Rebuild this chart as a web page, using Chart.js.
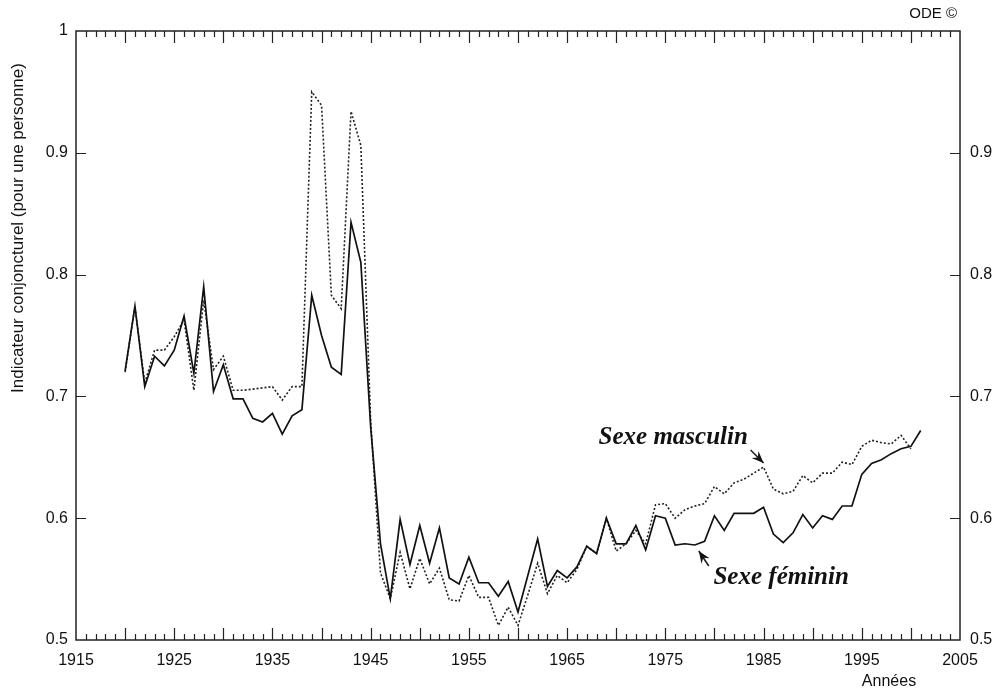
<!DOCTYPE html>
<html>
<head>
<meta charset="utf-8">
<script src="https://cdn.jsdelivr.net/npm/chart.js@4.4.0/dist/chart.umd.min.js"></script>
<style>
  body { margin: 0; background: #fff; }
  #chartContainer { display: block; }
</style>
</head>
<body>
<canvas id="chartContainer" width="994" height="692"></canvas>
<script>
// annees 1920 - 2001
var years = [];
for (var a = 1920; a <= 2001; a++) years.push(a);

// Sexe feminin (trait plein), 1920-2001
var feminin = [
  0.721, 0.774, 0.708, 0.733, 0.725, 0.738, 0.766, 0.719, 0.790, 0.704,
  0.726, 0.698, 0.698, 0.682, 0.679, 0.686, 0.669, 0.684, 0.689, 0.783,
  0.750, 0.724, 0.718, 0.843, 0.810, 0.675, 0.579, 0.534, 0.599, 0.562,
  0.594, 0.563, 0.592, 0.551, 0.546, 0.568, 0.547, 0.547, 0.536, 0.548,
  0.523, 0.553, 0.583, 0.544, 0.557, 0.551, 0.560, 0.577, 0.571, 0.600,
  0.579, 0.579, 0.594, 0.574, 0.602, 0.600, 0.578, 0.579, 0.578, 0.581,
  0.602, 0.590, 0.604, 0.604, 0.604, 0.609, 0.587, 0.580, 0.588, 0.603,
  0.592, 0.602, 0.599, 0.610, 0.610, 0.636, 0.645, 0.648, 0.653, 0.657,
  0.659, 0.672
];

// Sexe masculin (pointille), 1920-2000
var masculin = [
  0.720, 0.774, 0.711, 0.738, 0.738, 0.749, 0.763, 0.705, 0.779, 0.722,
  0.733, 0.705, 0.705, 0.706, 0.707, 0.708, 0.697, 0.708, 0.708, 0.950,
  0.939, 0.783, 0.772, 0.934, 0.906, 0.680, 0.555, 0.534, 0.572, 0.542,
  0.567, 0.546, 0.559, 0.533, 0.532, 0.553, 0.535, 0.535, 0.512, 0.527,
  0.512, 0.537, 0.563, 0.538, 0.553, 0.547, 0.558, 0.577, 0.571, 0.600,
  0.573, 0.579, 0.590, 0.579, 0.611, 0.612, 0.600, 0.607, 0.610, 0.612,
  0.626, 0.620, 0.629, 0.632, 0.637, 0.642, 0.624, 0.620, 0.622, 0.635,
  0.629, 0.637, 0.637, 0.646, 0.644, 0.659, 0.664, 0.662, 0.661, 0.668,
  0.657
];

var xMin = 1915, xMax = 2005;
var yMin = 0.5, yMax = 1;

function pts(vals) {
  return vals.map(function (v, i) { return { x: years[i], y: v }; });
}

var tickFont = { family: 'Liberation Sans', size: 16 };

// cadre, graduations internes et textes
var decor = {
  id: 'decor',
  afterDraw: function (chart) {
    var c = chart.ctx, ca = chart.chartArea;
    var sx = chart.scales.x, sy = chart.scales.y;
    c.save();
    c.strokeStyle = '#222';
    c.lineWidth = 1.5;
    c.strokeRect(ca.left, ca.top, ca.right - ca.left, ca.bottom - ca.top);

    c.lineWidth = 1.2;
    c.beginPath();
    for (var yr = xMin + 1; yr < xMax; yr++) {
      var px = Math.round(sx.getPixelForValue(yr)) + 0.5;
      var len = (yr % 5 === 0) ? 12 : 6;
      c.moveTo(px, ca.bottom); c.lineTo(px, ca.bottom - len);
      c.moveTo(px, ca.top); c.lineTo(px, ca.top + len);
    }
    for (var k = 1; k < 5; k++) {
      var py = Math.round(sy.getPixelForValue(yMin + k / 10)) + 0.5;
      c.moveTo(ca.left, py); c.lineTo(ca.left + 10, py);
      c.moveTo(ca.right, py); c.lineTo(ca.right - 10, py);
    }
    c.stroke();

    c.fillStyle = '#111';
    c.font = '15px "Liberation Sans"';
    c.textAlign = 'right'; c.textBaseline = 'middle';
    c.fillText('ODE \u00a9', 957, 14);
    c.textAlign = 'center';
    c.font = '16px "Liberation Sans"';
    c.fillText('Ann\u00e9es', 889, 682);

    c.save();
    c.translate(18, 228);
    c.rotate(-Math.PI / 2);
    c.font = '17px "Liberation Sans"';
    c.fillText('Indicateur conjoncturel (pour une personne)', 0, 0);
    c.restore();

    // etiquettes des courbes
    c.font = 'bold italic 25px "Liberation Serif"';
    c.textAlign = 'left';
    c.fillText('Sexe masculin', sx.getPixelForValue(1968.2), sy.getPixelForValue(0.6665));
    c.fillText('Sexe f\u00e9minin', sx.getPixelForValue(1979.9), sy.getPixelForValue(0.551));

    function arrow(x0, y0, x1, y1) {
      var ang = Math.atan2(y1 - y0, x1 - x0);
      c.lineWidth = 1.6;
      c.beginPath(); c.moveTo(x0, y0); c.lineTo(x1, y1); c.stroke();
      c.beginPath();
      c.moveTo(x1, y1);
      c.lineTo(x1 - 13 * Math.cos(ang - 0.38), y1 - 13 * Math.sin(ang - 0.38));
      c.lineTo(x1 - 8 * Math.cos(ang), y1 - 8 * Math.sin(ang));
      c.lineTo(x1 - 13 * Math.cos(ang + 0.38), y1 - 13 * Math.sin(ang + 0.38));
      c.closePath(); c.fill();
    }
    var mx = sx.getPixelForValue(1985), my = sy.getPixelForValue(masculin[1985 - 1920]);
    arrow(mx - 13, my - 17, mx, my - 4);
    var fx = sx.getPixelForValue(1978), fy = sy.getPixelForValue(feminin[1978 - 1920]);
    arrow(fx + 14, fy + 21, fx + 4, fy + 6);
    c.restore();
  }
};

var ctx = document.getElementById('chartContainer').getContext('2d');
var chart = new Chart(ctx, {
  type: 'line',
  data: {
    datasets: [{
      label: 'Sexe f\u00e9minin',
      data: pts(feminin),
      borderColor: '#111',
      borderWidth: 1.7,
      pointRadius: 0,
      tension: 0,
      fill: false
    }, {
      label: 'Sexe masculin',
      data: pts(masculin),
      borderColor: '#222',
      borderWidth: 1.6,
      borderDash: [2, 2],
      pointRadius: 0,
      tension: 0,
      fill: false
    }]
  },
  options: {
    responsive: false,
    animation: false,
    layout: { padding: { top: 31, left: 0, right: 0, bottom: 0 } },
    plugins: { legend: { display: false }, tooltip: { enabled: false } },
    scales: {
      x: {
        type: 'linear',
        min: xMin, max: xMax,
        grid: { display: false, drawTicks: false },
        border: { display: false },
        ticks: {
          stepSize: 1, autoSkip: false, maxRotation: 0, padding: 11,
          color: '#111', font: tickFont,
          callback: function (v) { return ((v - xMin) % 10 === 0) ? String(v) : ''; }
        },
        afterFit: function (s) { s.height = 52; }
      },
      y: {
        min: yMin, max: yMax,
        grid: { display: false, drawTicks: false },
        border: { display: false },
        ticks: {
          stepSize: 0.1, padding: 8, color: '#111', font: tickFont,
          callback: function (v) { var r = Math.round(v * 10) / 10; return r === 1 ? '1' : r.toFixed(1); }
        },
        afterFit: function (s) { s.width = 76; }
      },
      y2: {
        position: 'right',
        min: yMin, max: yMax,
        grid: { display: false, drawTicks: false },
        border: { display: false },
        ticks: {
          stepSize: 0.1, padding: 10, color: '#111', font: tickFont,
          callback: function (v) { var r = Math.round(v * 10) / 10; return r === 1 ? '' : r.toFixed(1); }
        },
        afterFit: function (s) { s.width = 34; }
      }
    }
  },
  plugins: [decor]
});
</script>
</body>
</html>
